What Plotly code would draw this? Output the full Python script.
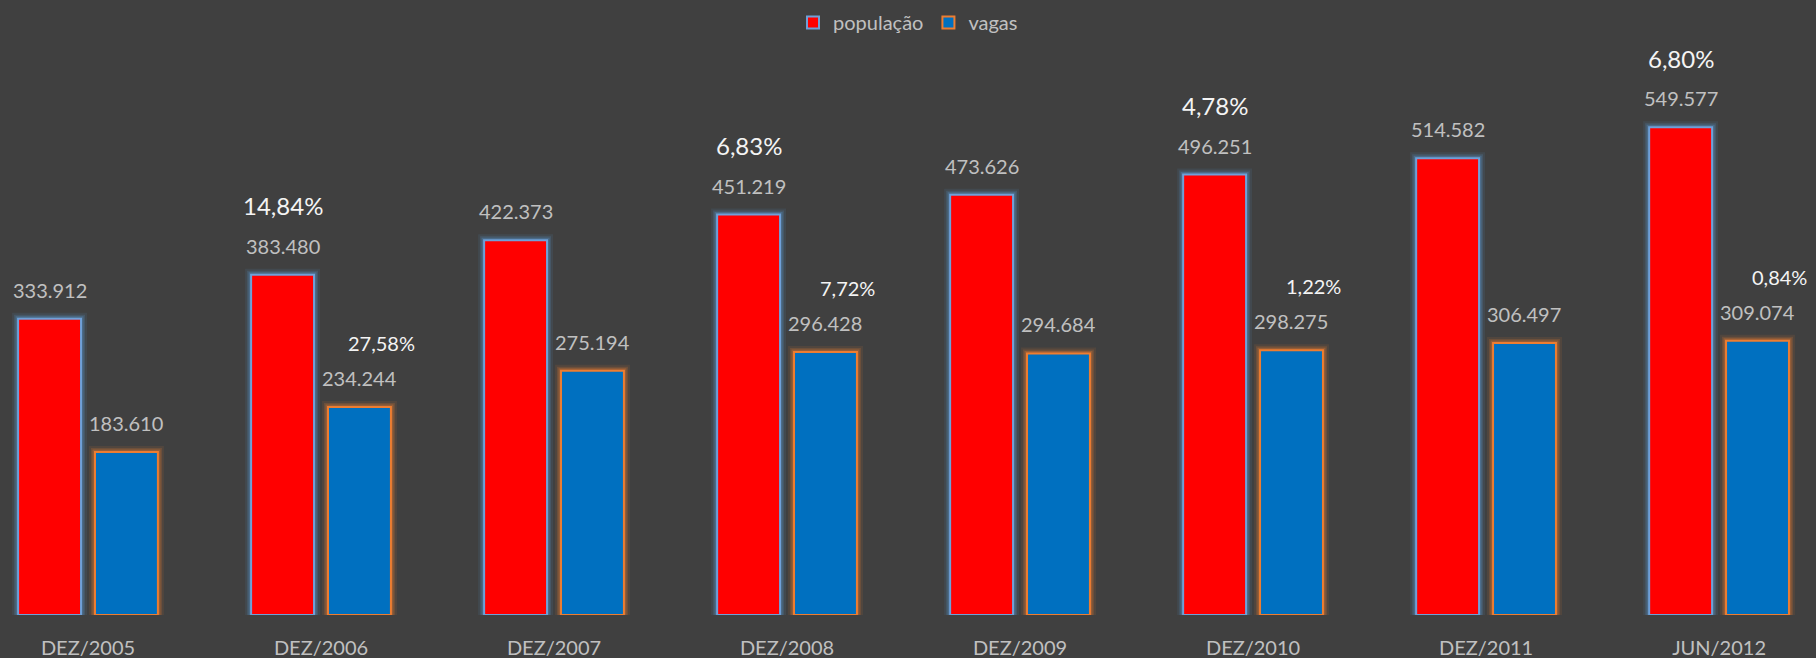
import plotly.graph_objects as go

# dados
periodos = ["DEZ/2005", "DEZ/2006", "DEZ/2007", "DEZ/2008", "DEZ/2009", "DEZ/2010", "DEZ/2011", "JUN/2012"]
populacao = [333912, 383480, 422373, 451219, 473626, 496251, 514582, 549577]
vagas = [183610, 234244, 275194, 296428, 294684, 298275, 306497, 309074]
pct_populacao = [None, 14.84, None, 6.83, None, 4.78, None, 6.80]
pct_vagas = [None, 27.58, None, 7.72, None, 1.22, None, 0.84]

BG = "#404040"
FONT = "Lato, Open Sans, sans-serif"
GRAY = "#c0c0c0"


def fmt_num(v):
    return f"{v:,}".replace(",", ".")


def fmt_pct(p):
    return f"{p:.2f}".replace(".", ",") + "%"


fig = go.Figure()

series = [
    ("população", populacao, "#ff0000", "rgba(91,155,213,{a})", "#6fa0d8", -0.300),
    ("vagas", vagas, "#0070c0", "rgba(237,125,49,{a})", "#ed7d31", 0.030),
]
bar_w = 0.270

# glow behind the bars
for name, vals, fill, glow, edge, off in series:
    for lw, a in [(12, 0.10), (8, 0.18), (5, 0.30)]:
        fig.add_trace(
            go.Bar(
                x=periodos,
                y=vals,
                offset=off,
                width=bar_w,
                marker_color="rgba(0,0,0,0)",
                marker_line=dict(color=glow.format(a=a), width=lw),
                showlegend=False,
                hoverinfo="skip",
            )
        )

for name, vals, fill, glow, edge, off in series:
    fig.add_trace(
        go.Bar(
            name=name,
            x=periodos,
            y=vals,
            offset=off,
            width=bar_w,
            marker_color=fill,
            marker_line=dict(color=edge, width=2),
        )
    )

annotations = []
for i, cat in enumerate(periodos):
    annotations.append(
        dict(x=cat, y=populacao[i], text=fmt_num(populacao[i]), xshift=-38, yshift=29,
             showarrow=False, yanchor="middle", font=dict(family=FONT, size=20, color=GRAY))
    )
    annotations.append(
        dict(x=cat, y=vagas[i], text=fmt_num(vagas[i]), xshift=38, yshift=29,
             showarrow=False, yanchor="middle", font=dict(family=FONT, size=20, color=GRAY))
    )
    if pct_populacao[i] is not None:
        annotations.append(
            dict(x=cat, y=populacao[i], text=fmt_pct(pct_populacao[i]), xshift=-38, yshift=69,
                 showarrow=False, yanchor="middle", font=dict(family=FONT, size=24, color="#f4f4f4"))
        )
    if pct_vagas[i] is not None:
        annotations.append(
            dict(x=cat, y=vagas[i], text=fmt_pct(pct_vagas[i]), xshift=60, yshift=64,
                 showarrow=False, yanchor="middle", font=dict(family=FONT, size=20, color="#f4f4f4"))
        )

fig.update_layout(
    barmode="overlay",
    width=1816,
    height=658,
    paper_bgcolor=BG,
    plot_bgcolor=BG,
    margin=dict(l=0, r=0, t=0, b=43),
    showlegend=True,
    legend=dict(
        orientation="h",
        x=0.5,
        xanchor="center",
        y=0.995,
        yanchor="top",
        font=dict(family=FONT, size=20, color=GRAY),
        bgcolor="rgba(0,0,0,0)",
        itemwidth=30,
    ),
    annotations=annotations,
    xaxis=dict(
        range=[-0.3777, 7.416],
        showgrid=False,
        zeroline=False,
        showline=False,
        ticks="outside",
        ticklen=15,
        tickcolor=BG,
        tickfont=dict(family=FONT, size=20, color=GRAY),
    ),
    yaxis=dict(range=[0, 693000], visible=False),
)

fig.write_html(
    "out.html",
    config={"displayModeBar": False},
    post_script="document.body.style.margin='0';document.body.style.background='#404040';",
)
